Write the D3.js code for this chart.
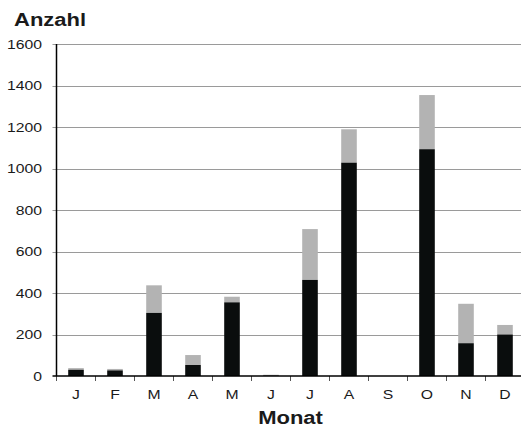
<!DOCTYPE html>
<meta charset="utf-8">
<script src="https://d3js.org/d3.v7.min.js"></script>
<style>
  body { margin: 0; background: #fff; }
  text { font-family: "Liberation Sans", Arial, sans-serif; fill: #1a1a1a; }
</style>
<svg width="521" height="428"></svg>
<script>

// data
const months = ["J", "F", "M", "A", "M", "J", "J", "A", "S", "O", "N", "D"];
const dark  = [30, 27, 304, 53, 355, 2, 463, 1028, 0, 1093, 158, 200];
const light = [8, 7, 133, 48, 27, 4, 245, 161, 0, 261, 190, 46];
const yTicks = [0, 200, 400, 600, 800, 1000, 1200, 1400, 1600];

const sx = 1.25; // the original text looks stretched sideways

const svg = d3.select("svg");

const plotL = 56.5, plotR = 524.5, plotT = 44, plotB = 376;

const x = d3.scaleBand()
    .domain(d3.range(months.length))
    .range([plotL, plotR])
    .paddingInner(0.6)
    .paddingOuter(0.3);

const y = d3.scaleLinear()
    .domain([0, 1600])
    .range([plotB, plotT]);

// gridlines
svg.append("g")
  .selectAll("line")
  .data(yTicks.slice(1))
  .enter().append("line")
    .attr("x1", plotL - 4).attr("x2", 521)
    .attr("y1", d => Math.round(y(d)) + 0.5)
    .attr("y2", d => Math.round(y(d)) + 0.5)
    .attr("stroke", "#9a9a9a")
    .attr("stroke-width", 1.2);

// y labels
svg.append("g")
  .selectAll("text")
  .data(yTicks)
  .enter().append("text")
    .attr("transform", d => "translate(42," + (y(d) + 4.5) + ") scale(" + sx + ",1)")
    .attr("text-anchor", "end")
    .style("font-size", "12.6px")
    .text(d => d);

// stacked bars
const stack = months.map((m, i) => ({i: i, a: dark[i], b: light[i]}));

svg.append("g")
  .selectAll("rect.light")
  .data(stack)
  .enter().append("rect")
    .attr("x", d => x(d.i))
    .attr("width", x.bandwidth())
    .attr("y", d => y(d.a + d.b))
    .attr("height", d => y(d.a) - y(d.a + d.b))
    .attr("fill", "#b3b3b3");

svg.append("g")
  .selectAll("rect.dark")
  .data(stack)
  .enter().append("rect")
    .attr("x", d => x(d.i))
    .attr("width", x.bandwidth())
    .attr("y", d => y(d.a))
    .attr("height", d => y(0) - y(d.a))
    .attr("fill", "#0a0d0d");

// x tick marks
svg.append("g")
  .selectAll("line")
  .data(d3.range(months.length + 1))
  .enter().append("line")
    .attr("x1", d => plotL + d * x.step())
    .attr("x2", d => plotL + d * x.step())
    .attr("y1", plotB).attr("y2", plotB + 5)
    .attr("stroke", "#555");

// axis lines
svg.append("line")
    .attr("x1", plotL).attr("x2", plotL)
    .attr("y1", plotT).attr("y2", plotB)
    .attr("stroke", "#000").attr("stroke-width", 1.5);
svg.append("line")
    .attr("x1", plotL - 4).attr("x2", 521)
    .attr("y1", plotB).attr("y2", plotB)
    .attr("stroke", "#000").attr("stroke-width", 1.5);

// month labels
svg.append("g")
  .selectAll("text")
  .data(months)
  .enter().append("text")
    .attr("transform", (d, i) => "translate(" + (x(i) + x.bandwidth() / 2) + ",399) scale(" + sx + ",1)")
    .attr("text-anchor", "middle")
    .style("font-size", "12.6px")
    .text(d => d);

// titles
svg.append("text")
    .attr("transform", "translate(14,26) scale(" + sx + ",1)")
    .style("font-size", "17.6px")
    .style("font-weight", "bold")
    .text("Anzahl");

svg.append("text")
    .attr("transform", "translate(290.5,424) scale(" + sx + ",1)")
    .attr("text-anchor", "middle")
    .style("font-size", "17.6px")
    .style("font-weight", "bold")
    .text("Monat");

</script>
